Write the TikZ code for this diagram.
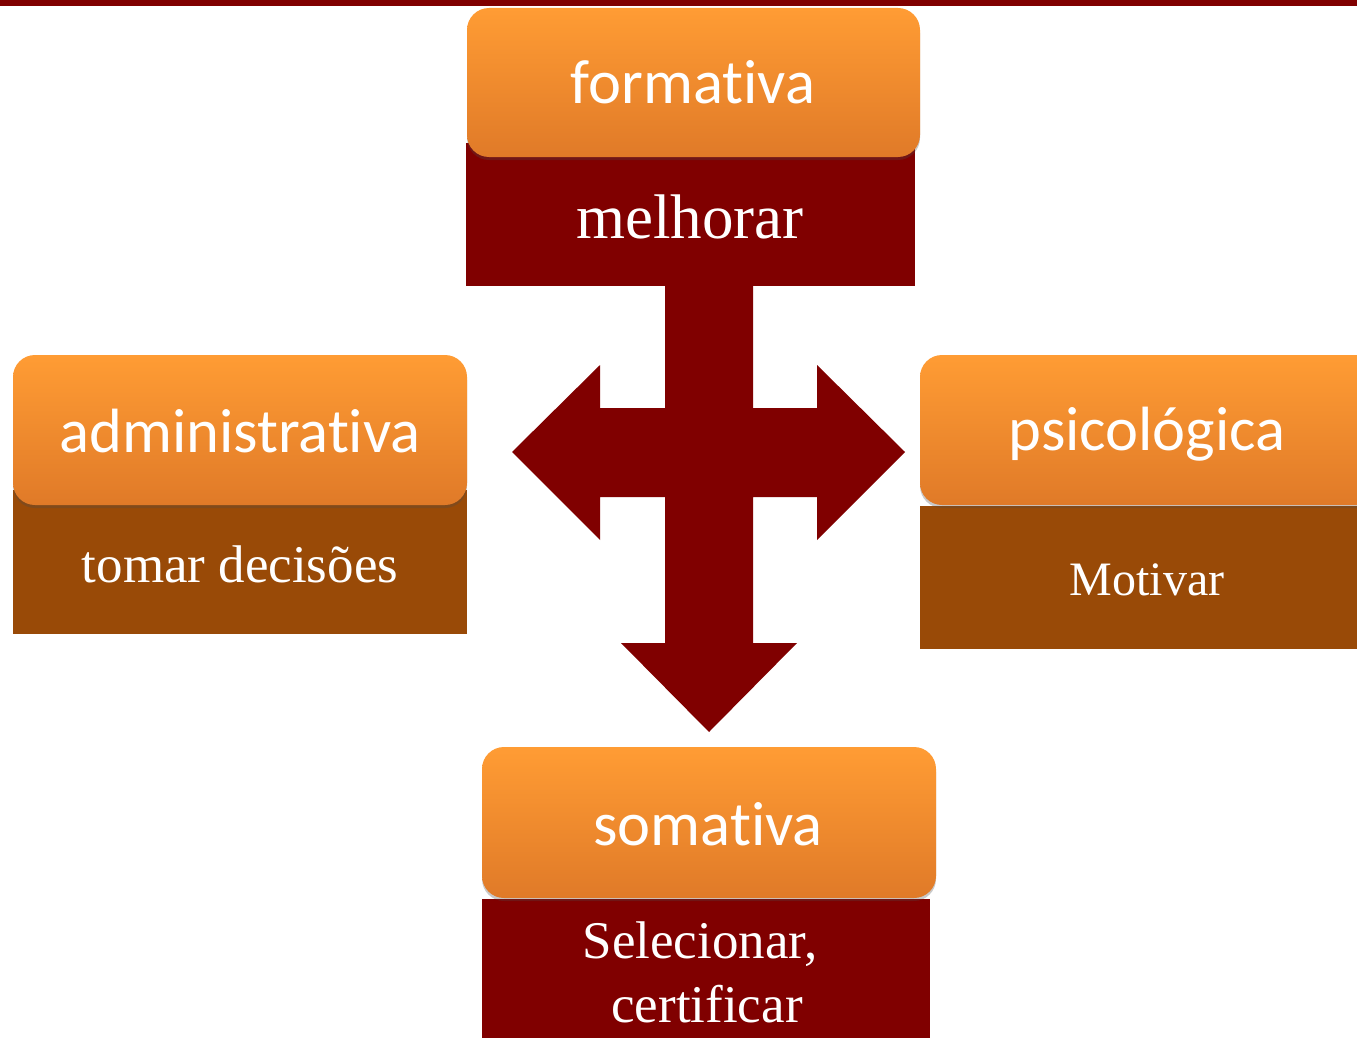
\documentclass[tikz,border=0pt]{standalone}
\usepackage{fontspec}
\setmainfont{Liberation Serif}
\newfontfamily\calibfont[Ligatures={NoCommon,NoRare}]{Carlito}
\usetikzlibrary{shadows}
\definecolor{darkred}{RGB}{128,0,0}
\definecolor{rust}{RGB}{153,74,7}
\definecolor{orangetop}{RGB}{255,156,52}
\definecolor{orangebot}{RGB}{224,122,40}
\tikzset{
  orangebox/.style={rounded corners=22pt, top color=orangetop, bottom color=orangebot,
    draw=none, drop shadow={shadow xshift=0pt, shadow yshift=-3pt, opacity=0.3, fill=black!70}},
  titletext/.style={text=white, anchor=base, inner sep=0pt, font=\calibfont\fontsize{62.5}{70}\selectfont},
  subtext/.style={text=white, anchor=base, inner sep=0pt, font=\fontsize{#1}{#1}\selectfont},
}
\begin{document}
\begin{tikzpicture}[x=1pt,y=-1pt]
\useasboundingbox (0,0) rectangle (1357,1038);
\clip (0,0) rectangle (1357,1038);
% top bar
\fill[darkred] (0,0) rectangle (1357,6.5);
% lower boxes
\fill[darkred] (466,143) rectangle (915,286);
\fill[rust] (13,490) rectangle (467,634);
\fill[rust] (920,506) rectangle (1357,649);
\fill[darkred] (482,899) rectangle (930,1038);
% arrow
\fill[darkred] (665,280) -- (753,280) -- (753,408) -- (817,408) -- (817,365) -- (905,452)
  -- (817,540) -- (817,497) -- (753,497) -- (753,643) -- (797,643) -- (709,732)
  -- (621,643) -- (665,643) -- (665,497) -- (600,497) -- (600,540) -- (512,452)
  -- (600,365) -- (600,408) -- (665,408) -- cycle;
% orange boxes
\path[orangebox] (467,8) rectangle (920,157);
\path[orangebox] (13,355) rectangle (467,505);
\path[orangebox] (920,355) rectangle (1385,505);
\path[orangebox] (482,747) rectangle (936,898);
% titles
\node[titletext] (formativa) at (693,104) {formativa};
\node[titletext] (administrativa) at (240,452) {administrativa};
\node[titletext] (psicologica) at (1147,450) {psicológica};
\node[titletext] (somativa) at (708,845) {somativa};
% subtexts
\node[subtext=63] (melhorar) at (690,238) {melhorar};
\node[subtext=53] (tomar) at (240,582) {tomar decisões};
\node[subtext=48] (motivar) at (1147,595) {Motivar};
\node[subtext=53] (selecionar) at (700,958) {Selecionar,};
\node[subtext=53] (certificar) at (707,1022) {certificar};
\end{tikzpicture}
\end{document}
